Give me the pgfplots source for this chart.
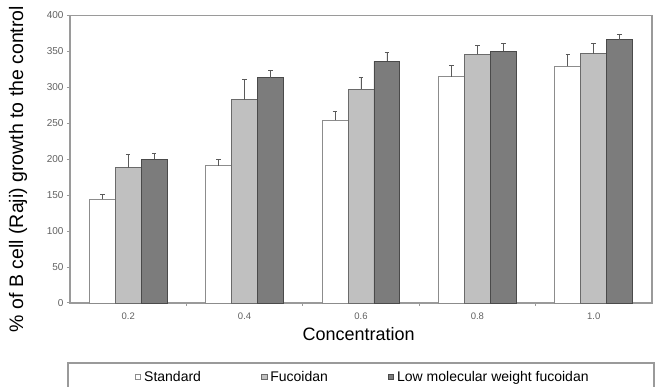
\documentclass[border=0pt]{standalone}
\usepackage{pgfplots}
\pgfplotsset{compat=1.18}
\usepackage{fontspec}
\setmainfont{Liberation Sans}
\definecolor{axgray}{HTML}{9A9A9A}
\definecolor{labgray}{HTML}{606060}
\definecolor{stdedge}{HTML}{8C8C8C}
\definecolor{fucfill}{HTML}{C0C0C0}
\definecolor{fucedge}{HTML}{6A6A6A}
\definecolor{lmwfill}{HTML}{7C7C7C}
\definecolor{lmwedge}{HTML}{4A4A4A}
\definecolor{errgray}{HTML}{5A5A5A}
\pgfplotsset{
  sqlegend/.style={legend image code/.code={\draw[##1, line width=0.7pt] (0pt,-2.8pt) rectangle (5.6pt,2.8pt);}},
}
\begin{document}
\begin{tikzpicture}
\begin{axis}[
  scale only axis, width=582pt, height=287.6pt,
  xmin=-0.5, xmax=4.5, ymin=0, ymax=400,
  ytick={0,50,...,400},
  xtick={0,1,2,3,4}, xticklabels={0.2,0.4,0.6,0.8,1.0},
  major x tick style={draw=none},
  extra x ticks={0.5,1.5,2.5,3.5}, extra x tick labels={},
  extra x tick style={major x tick style={draw=axgray, line width=1pt}},
  tick align=outside, major tick length=3pt,
  xtick pos=bottom, ytick pos=left,
  axis line style={axgray, line width=1.2pt},
  tick style={axgray, line width=1pt},
  /pgf/number format/assume math mode=true,
  x tick label style={font=\fontsize{9.5}{10}\selectfont, text=labgray, yshift=-3pt},
  y tick label style={font=\fontsize{10}{11}\selectfont, text=labgray},
  ylabel={\% of B cell (Raji) growth to the control},
  ylabel style={font=\fontsize{19.5}{21}\selectfont, at={(axis description cs:-0.0893,0.466)}, anchor=center},
  xlabel={Concentration},
  xlabel style={font=\fontsize{18}{20}\selectfont, at={(axis description cs:0.496,-0.108)}, anchor=center},
  error bars/y dir=plus, error bars/y explicit,
  error bars/error bar style={errgray, line width=0.9pt},
  error bars/error mark options={rotate=90, mark size=2.3pt, errgray, line width=0.9pt},
  legend columns=3,
  legend style={at={(axis description cs:0.503,-0.257)}, anchor=center, draw=none, fill=none,
    font=\fontsize{14}{16}\selectfont, inner sep=0pt,
    /tikz/every even column/.append style={column sep=58pt},
    /tikz/every odd column/.append style={column sep=1pt}},
  clip=false,
]
\addplot[ybar, bar width=0.223, bar shift=0, fill=white, draw=stdedge, line width=0.9pt, sqlegend]
  coordinates {(-0.223,144) += (0,7) (0.777,191) += (0,9) (1.777,254) += (0,12) (2.777,315) += (0,15) (3.777,329) += (0,16)};
\addlegendentry{Standard}
\addplot[ybar, bar width=0.223, bar shift=0, fill=fucfill, draw=fucedge, line width=0.9pt, sqlegend]
  coordinates {(0,188) += (0,19) (1,283) += (0,28) (2,297) += (0,16) (3,346) += (0,12) (4,347) += (0,14)};
\addlegendentry{Fucoidan}
\addplot[ybar, bar width=0.223, bar shift=0, fill=lmwfill, draw=lmwedge, line width=0.9pt, sqlegend]
  coordinates {(0.223,200) += (0,8) (1.223,313) += (0,11) (2.223,336) += (0,13) (3.223,350) += (0,11) (4.223,366) += (0,7)};
\addlegendentry{Low molecular weight fucoidan}
\end{axis}
\draw[axgray, line width=1.2pt] (-2pt,-60pt) rectangle (584pt,-100pt);
\pgfresetboundingbox
\path[use as bounding box] (-70pt,-84pt) rectangle (594pt,303pt);
\end{tikzpicture}
\end{document}
